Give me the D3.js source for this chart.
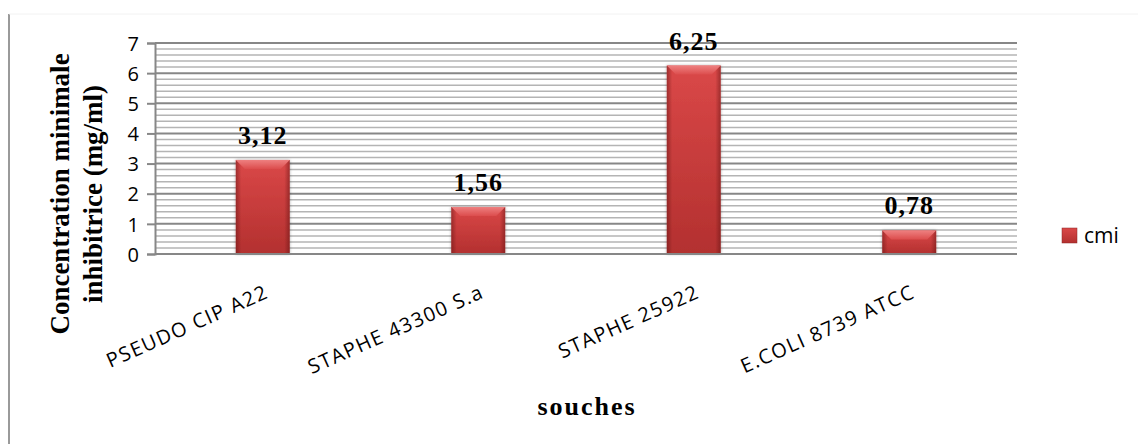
<!DOCTYPE html>
<html>
<head>
<meta charset="utf-8">
<script src="https://cdn.jsdelivr.net/npm/d3@7"></script>
<style>
  html, body { margin: 0; padding: 0; background: #fff; }
  svg { display: block; }
  .tick text { font-family: 'Open Sans', sans-serif; font-size: 20px; fill: #000; }
</style>
</head>
<body>
<div id="chart"></div>
<script>
(() => {
  // chart data
  const categories = ['PSEUDO CIP A22', 'STAPHE 43300 S.a', 'STAPHE 25922', 'E.COLI 8739 ATCC']
  const cmiValues = [3.12, 1.56, 6.25, 0.78]
  const valueLabels = ['3,12', '1,56', '6,25', '0,78']
  const yTicks = [0, 1, 2, 3, 4, 5, 6, 7]
  const seriesName = 'cmi'
  const yTitle = ['Concentration minimale', 'inhibitrice (mg/ml)']
  const xTitle = 'souches'

  const WIDTH = 1138
  const HEIGHT = 444
  const PLOT = { left: 155, right: 1017, top: 43, bottom: 254 }

  const data = categories.map((c, i) => ({ name: c, value: cmiValues[i], label: valueLabels[i] }))

  const svg = d3.select('#chart').append('svg')
    .attr('width', WIDTH)
    .attr('height', HEIGHT)

  // gradients for the bevelled bars
  const defs = svg.append('defs')
  const body = defs.append('linearGradient').attr('id', 'barBody')
    .attr('x1', 0).attr('y1', 0).attr('x2', 0).attr('y2', 1)
  body.append('stop').attr('offset', '0%').attr('stop-color', '#da4848')
  body.append('stop').attr('offset', '100%').attr('stop-color', '#b3302f')

  const sides = defs.append('linearGradient').attr('id', 'barSides')
    .attr('x1', 0).attr('y1', 0).attr('x2', 1).attr('y2', 0)
  sides.append('stop').attr('offset', '0%').attr('stop-color', '#5a0f0f').attr('stop-opacity', 0.45)
  sides.append('stop').attr('offset', '10%').attr('stop-color', '#5a0f0f').attr('stop-opacity', 0)
  sides.append('stop').attr('offset', '90%').attr('stop-color', '#5a0f0f').attr('stop-opacity', 0)
  sides.append('stop').attr('offset', '100%').attr('stop-color', '#5a0f0f').attr('stop-opacity', 0.45)

  const bevel = defs.append('linearGradient').attr('id', 'barBevel')
    .attr('x1', 0).attr('y1', 0).attr('x2', 0).attr('y2', 1)
  bevel.append('stop').attr('offset', '0%').attr('stop-color', '#ee8080')
  bevel.append('stop').attr('offset', '100%').attr('stop-color', '#dc4d4d')

  defs.append('filter').attr('id', 'shadow')
    .attr('x', '-20%').attr('y', '-20%').attr('width', '140%').attr('height', '140%')
    .append('feDropShadow')
    .attr('dx', 0).attr('dy', 0).attr('stdDeviation', 1.5)
    .attr('flood-color', '#000').attr('flood-opacity', 0.35)

  // frame lines of the chart box
  svg.append('line')
    .attr('x1', 9).attr('x2', 9).attr('y1', 14).attr('y2', HEIGHT)
    .attr('stroke', '#9a9a9a').attr('stroke-width', 2)
  svg.append('line')
    .attr('x1', 9).attr('x2', WIDTH).attr('y1', 14).attr('y2', 14)
    .attr('stroke', '#f2f2f2').attr('stroke-width', 1)

  const x = d3.scaleBand()
    .domain(categories)
    .range([PLOT.left, PLOT.right])
    .padding(0)

  const y = d3.scaleLinear()
    .domain([0, 7])
    .range([PLOT.bottom, PLOT.top])

  const barW = x.bandwidth() * 0.25

  // minor and major gridlines
  const minor = d3.range(0, 7.001, 0.2).filter(v => Math.abs(v - Math.round(v)) > 0.01)
  svg.append('g').selectAll('line')
    .data(minor)
    .join('line')
    .attr('x1', PLOT.left).attr('x2', PLOT.right)
    .attr('y1', d => y(d)).attr('y2', d => y(d))
    .attr('stroke', '#b4b4b4').attr('stroke-width', 1.5)

  svg.append('g').selectAll('line')
    .data(yTicks.slice(1))
    .join('line')
    .attr('x1', PLOT.left).attr('x2', PLOT.right)
    .attr('y1', d => y(d)).attr('y2', d => y(d))
    .attr('stroke', '#878787').attr('stroke-width', 2)

  // y axis
  const yAxis = d3.axisLeft(y)
    .tickValues(yTicks)
    .tickFormat(d3.format('d'))
    .tickSize(8)
    .tickPadding(8)

  const yG = svg.append('g')
    .attr('transform', `translate(${PLOT.left}, 0)`)
    .call(yAxis)
  yG.select('.domain').attr('stroke', '#878787').attr('stroke-width', 2)
  yG.selectAll('.tick line').attr('stroke', '#878787').attr('stroke-width', 2)
  yG.selectAll('.tick text').attr('dy', '0.36em')

  // bars
  const bars = svg.append('g').selectAll('g')
    .data(data)
    .join('g')
    .attr('transform', d => `translate(${x(d.name) + (x.bandwidth() - barW) / 2}, ${y(d.value)})`)

  bars.append('rect')
    .attr('width', barW)
    .attr('height', d => y(0) - y(d.value))
    .attr('fill', 'url(#barBody)')
    .attr('filter', 'url(#shadow)')

  bars.append('rect')
    .attr('width', barW)
    .attr('height', d => y(0) - y(d.value))
    .attr('fill', 'url(#barSides)')

  // top bevel
  const bv = 9
  bars.append('path')
    .attr('d', d => {
      const h = Math.min(bv, (y(0) - y(d.value)) / 2)
      return `M0,0 L${barW},0 L${barW - h},${h} L${h},${h} Z`
    })
    .attr('fill', 'url(#barBevel)')

  // x axis line
  svg.append('line')
    .attr('x1', PLOT.left).attr('x2', PLOT.right)
    .attr('y1', y(0)).attr('y2', y(0))
    .attr('stroke', '#878787').attr('stroke-width', 2)

  // value labels
  svg.append('g').selectAll('text')
    .data(data)
    .join('text')
    .attr('x', d => x(d.name) + x.bandwidth() / 2)
    .attr('y', d => y(d.value) - 16)
    .attr('text-anchor', 'middle')
    .attr('font-family', "'Liberation Serif', 'Times New Roman', serif")
    .attr('font-weight', 'bold')
    .attr('font-size', 26)
    .attr('letter-spacing', 1)
    .text(d => d.label)

  // category labels, rotated
  svg.append('g').selectAll('text')
    .data(categories)
    .join('text')
    .attr('transform', d => `translate(${x(d) + x.bandwidth() / 2 + 7}, ${297}) rotate(-24)`)
    .attr('text-anchor', 'end')
    .attr('font-family', "'Open Sans', sans-serif")
    .attr('font-size', 20)
    .attr('letter-spacing', 1.4)
    .text(d => d)

  // axis titles
  const yt = svg.append('text')
    .attr('transform', 'translate(0, 194) rotate(-90)')
    .attr('text-anchor', 'middle')
    .attr('font-family', "'Liberation Serif', 'Times New Roman', serif")
    .attr('font-weight', 'bold')
    .attr('font-size', 27)
  yt.selectAll('tspan')
    .data(yTitle)
    .join('tspan')
    .attr('x', 0)
    .attr('y', (d, i) => 69 + i * 33)
    .text(d => d)

  svg.append('text')
    .attr('x', 587)
    .attr('y', 415)
    .attr('text-anchor', 'middle')
    .attr('font-family', "'Liberation Serif', 'Times New Roman', serif")
    .attr('font-weight', 'bold')
    .attr('font-size', 26)
    .attr('letter-spacing', 2)
    .text(xTitle)

  // legend
  const legend = svg.append('g').attr('transform', 'translate(1062, 228)')
  legend.append('rect')
    .attr('width', 15).attr('height', 15)
    .attr('fill', 'url(#barBody)')
    .attr('stroke', '#8c2626').attr('stroke-width', 0.5)
  legend.append('text')
    .attr('x', 22)
    .attr('y', 15)
    .attr('font-family', "'Open Sans', sans-serif")
    .attr('font-size', 21)
    .text(seriesName)
})()
</script>
</body>
</html>
